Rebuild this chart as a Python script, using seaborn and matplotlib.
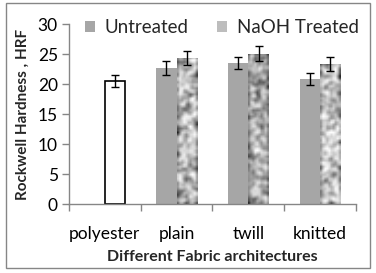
import matplotlib
matplotlib.use('Agg')

import matplotlib.pyplot as plt
import matplotlib.patches as mpatches
import numpy as np
import pandas as pd
import seaborn as sns

# ------------------------------------------------------------
#     Data
# ------------------------------------------------------------

categories = ["polyester", "plain", "twill", "knitted"]
untreated = [np.nan, 22.7, 23.6, 20.9]
untreated_err = [np.nan, 1.15, 1.05, 1.05]
treated = [20.5, 24.4, 25.1, 23.4]
treated_err = [1.0, 1.2, 1.25, 1.1]
groups = ["Untreated", "NaOH Treated"]

rows = []
for i, cat in enumerate(categories):
    rows.append({"fabric": cat, "group": groups[0], "hrf": untreated[i], "err": untreated_err[i]})
    rows.append({"fabric": cat, "group": groups[1], "hrf": treated[i], "err": treated_err[i]})
df = pd.DataFrame(rows)

# ------------------------------------------------------------
#     Plot
# ------------------------------------------------------------

sns.set_style("white")
plt.rcParams['font.family'] = ['Lato', 'DejaVu Sans']

grey = "#A6A6A6"
axis_grey = "#868686"

fig = plt.figure(figsize=(3.76, 2.73), dpi=100)
ax = fig.add_axes([0.1835, 0.2527, 0.9468 - 0.1835, 0.9103 - 0.2527])

sns.barplot(
    data=df, x="fabric", y="hrf", hue="group", order=categories, hue_order=groups,
    palette=[grey, "#b0b0b0"], width=0.574, errorbar=None, legend=False,
    linewidth=0, saturation=1, ax=ax
)

# mottled texture for the treated bars (just decoration, not data)
rng = np.random.default_rng(7)
k = np.array([1, 2, 1], dtype=float)
k /= k.sum()

def texture(nrows, ncols):
    t = rng.random((nrows, ncols))
    t = np.apply_along_axis(lambda r: np.convolve(r, k, mode="same"), 0, t)
    t = np.apply_along_axis(lambda r: np.convolve(r, k, mode="same"), 1, t)
    t = (t - t.min()) / (t.max() - t.min())
    return t ** 0.7

# match patches to values and add error bars
for p in ax.patches:
    h = p.get_height()
    if not np.isfinite(h) or h == 0:
        continue
    x = p.get_x() + p.get_width() / 2
    sub = df[np.isclose(df["hrf"], h)]
    err = sub["err"].iloc[0]
    grp = sub["group"].iloc[0]
    fab = sub["fabric"].iloc[0]
    if fab == "polyester":
        p.set_facecolor("white")
        p.set_edgecolor("black")
        p.set_linewidth(1.2)
    elif grp == "NaOH Treated":
        tex = texture(int(h * 6 / 2.0), 10)
        im = ax.imshow(
            tex, cmap="gray", vmin=-0.15, vmax=1.0, aspect="auto",
            extent=(p.get_x(), p.get_x() + p.get_width(), 0, h),
            interpolation="bilinear", zorder=p.get_zorder() + 0.1
        )
        im.set_clip_path(p)
    ax.errorbar(x, h, yerr=err, fmt="none", ecolor="black", elinewidth=1,
                capsize=3.2, capthick=1, zorder=5)

ax.set_xlim(-0.5, 3.5)
ax.set_ylim(0, 30)
ax.set_yticks(range(0, 31, 5))
ax.set_xticks([0, 1, 2, 3])
ax.set_xticklabels(categories)
ax.set_xticks([-0.5, 0.5, 1.5, 2.5, 3.5], minor=True)
ax.set_aspect("auto")

for s in ["top", "right"]:
    ax.spines[s].set_visible(False)
for s in ["left", "bottom"]:
    ax.spines[s].set_color(axis_grey)
    ax.spines[s].set_linewidth(1)

ax.tick_params(axis="y", which="major", left=True, length=5, width=1, color=axis_grey,
               labelsize=12.5, pad=3, labelcolor="black")
ax.tick_params(axis="x", which="major", bottom=False, labelsize=12.5, pad=12, labelcolor="black")
ax.tick_params(axis="x", which="minor", bottom=True, length=5, width=1, color=axis_grey)

ax.set_xlabel("Different Fabric architectures", fontsize=11.5, fontweight="bold", labelpad=6)
ax.set_ylabel("Rockwell Hardness , HRF", fontsize=11, fontweight="bold", labelpad=6)

handles = [
    mpatches.Patch(facecolor=grey, edgecolor="none", label="Untreated"),
    mpatches.Patch(facecolor="#bdbdbd", edgecolor="none", label="NaOH Treated"),
]
ax.legend(handles=handles, loc="upper left", bbox_to_anchor=(0.03, 1.07), ncol=2,
          frameon=False, fontsize=13.5, handlelength=0.55, handleheight=0.55,
          handletextpad=0.5, columnspacing=1.5, borderaxespad=0)

# outer frame
fig.patches.append(mpatches.Rectangle((6 / 376, 5 / 273), 364 / 376, 265 / 273,
                                      transform=fig.transFigure, fill=False,
                                      edgecolor=axis_grey, linewidth=1))

plt.savefig("out.png", dpi=100)
